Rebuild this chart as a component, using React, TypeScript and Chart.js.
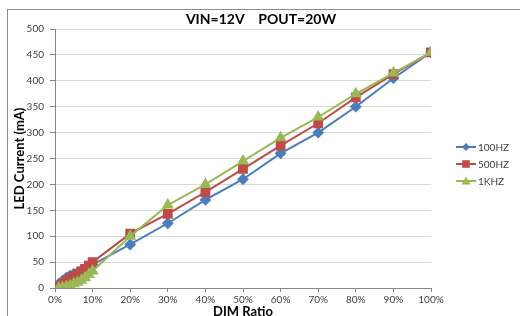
import React, { useEffect, useRef } from "react";
import { Chart, registerables } from "chart.js";

Chart.register(...registerables);

const dimRatio = [1, 2, 3, 4, 5, 6, 7, 8, 9, 10, 20, 30, 40, 50, 60, 70, 80, 90, 100];
const hz100 = [8, 14, 20, 24, 27, 30, 34, 37, 40, 45, 84, 125, 170, 210, 260, 300, 350, 405, 455];
const hz500 = [3, 8, 13, 18, 22, 27, 32, 37, 43, 50, 105, 143, 185, 230, 275, 318, 368, 413, 455];
const khz1 = [0, 1, 3, 5, 8, 11, 15, 20, 26, 33, 100, 160, 200, 245, 290, 330, 375, 415, 455];
const seriesNames = ["100HZ", "500HZ", "1KHZ"];
const yTicks = [0, 50, 100, 150, 200, 250, 300, 350, 400, 450, 500];
const xTickLabels = ["0%", "10%", "20%", "30%", "40%", "50%", "60%", "70%", "80%", "90%", "100%"];
const titleText = "VIN=12V    POUT=20W";

const FONT = "Lato, 'Open Sans', sans-serif";

function marker(ctx: CanvasRenderingContext2D, style: string, x: number, y: number) {
  ctx.beginPath();
  if (style === "rectRot") {
    const r = 4;
    ctx.moveTo(x, y - r);
    ctx.lineTo(x + r, y);
    ctx.lineTo(x, y + r);
    ctx.lineTo(x - r, y);
    ctx.closePath();
  } else if (style === "rect") {
    const s = 3.8;
    ctx.rect(x - s, y - s, 2 * s, 2 * s);
  } else {
    const r = 4.5;
    ctx.moveTo(x, y - r);
    ctx.lineTo(x + r, y + r * 0.75);
    ctx.lineTo(x - r, y + r * 0.75);
    ctx.closePath();
  }
  ctx.fill();
}

const legendPlugin = {
  id: "customLegend",
  afterDraw(chart: any) {
    const ctx = chart.ctx as CanvasRenderingContext2D;
    ctx.save();
    ctx.font = `bold 14px ${FONT}`;
    ctx.fillStyle = "#000";
    ctx.textAlign = "center";
    ctx.textBaseline = "middle";
    ctx.fillText(titleText, 261, 19);
    const rows = [147, 164, 181];
    chart.data.datasets.forEach((ds: any, i: number) => {
      const y = rows[i];
      ctx.strokeStyle = ds.borderColor;
      ctx.lineWidth = 2;
      ctx.beginPath();
      ctx.moveTo(456, y);
      ctx.lineTo(476, y);
      ctx.stroke();
      ctx.fillStyle = ds.backgroundColor;
      marker(ctx, ds.pointStyle, 466, y);
      ctx.fillStyle = "#404040";
      ctx.font = `10px ${FONT}`;
      ctx.textAlign = "left";
      ctx.textBaseline = "middle";
      ctx.fillText(ds.label, 478, y + 0.5);
    });
    ctx.restore();
  },
};

export default function App() {
  const ref = useRef<HTMLCanvasElement | null>(null);
  useEffect(() => {
    if (!ref.current) return;
    const mk = (vals: number[]) => dimRatio.map((x, i) => ({ x, y: vals[i] }));
    const chart = new Chart(ref.current, {
      type: "line",
      data: {
        datasets: [
          {
            label: seriesNames[0],
            data: mk(hz100),
            borderColor: "#4A7EBB",
            backgroundColor: "#4A7EBB",
            pointStyle: "rectRot",
            pointRadius: 4.5,
            borderWidth: 2,
            order: 2,
          },
          {
            label: seriesNames[1],
            data: mk(hz500),
            borderColor: "#BE4B48",
            backgroundColor: "#BE4B48",
            pointStyle: "rect",
            pointRadius: 5.5,
            borderWidth: 2,
            order: 1,
          },
          {
            label: seriesNames[2],
            data: mk(khz1),
            borderColor: "#98B954",
            backgroundColor: "#98B954",
            pointStyle: "triangle",
            pointRadius: 5,
            borderWidth: 2,
            order: 0,
          },
        ],
      },
      options: {
        animation: false,
        responsive: false,
        devicePixelRatio: 1,
        layout: { padding: { top: 29, right: 89, left: 0, bottom: 0 } },
        plugins: { legend: { display: false }, title: { display: false }, tooltip: { enabled: false } },
        scales: {
          x: {
            type: "linear",
            min: 0,
            max: 100,
            afterFit: (s: any) => { s.height = 28; },
            afterBuildTicks: (s: any) => { s.ticks = xTickLabels.map((_, i) => ({ value: i * 10 })); },
            ticks: {
              callback: (v: any) => xTickLabels[Math.round(Number(v) / 10)],
              font: { size: 10, family: FONT },
              color: "#404040",
              padding: 2,
              maxRotation: 0,
            },
            grid: { drawOnChartArea: false, tickLength: 4, tickColor: "#868686" },
            border: { color: "#868686" },
            title: {
              display: true,
              text: "DIM Ratio",
              font: { size: 13, weight: "bold", family: FONT },
              color: "#000",
              padding: { top: 0, bottom: -4 },
            },
          },
          y: {
            min: 0,
            max: 500,
            afterFit: (s: any) => { s.width = 55; },
            afterBuildTicks: (s: any) => { s.ticks = yTicks.map((v) => ({ value: v })); },
            ticks: {
              font: { size: 10, family: FONT },
              color: "#404040",
              padding: 6,
            },
            grid: { color: "#D9D9D9", tickLength: 5, tickColor: "#868686" },
            border: { color: "#868686" },
            title: {
              display: true,
              text: "LED Current (mA)",
              font: { size: 13, weight: "bold", family: FONT },
              color: "#000",
              padding: { top: 12, bottom: 0 },
            },
          },
        },
      },
      plugins: [legendPlugin],
    });
    return () => chart.destroy();
  }, []);
  return (
    <div style={{ position: "fixed", left: 0, top: 0, width: 520, height: 316, background: "#fff", overflow: "hidden" }}>
      <div style={{ position: "absolute", left: 7, top: 9, width: 600, height: 400, border: "1px solid #8C8C8C", boxSizing: "border-box" }} />
      <canvas ref={ref} width={520} height={316} style={{ position: "absolute", left: 0, top: 0, width: 520, height: 316 }} />
    </div>
  );
}
